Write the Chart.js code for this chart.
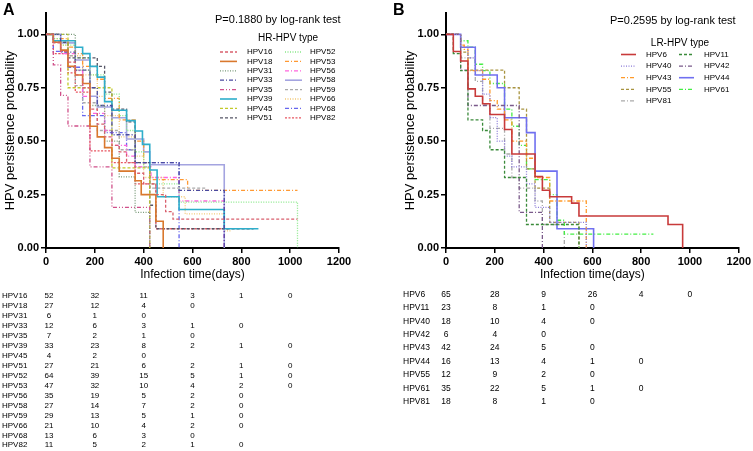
<!DOCTYPE html>
<html lang="en">
<head>
  <meta charset="UTF-8">
  <title>HPV persistence by type</title>
  <script src="https://cdn.jsdelivr.net/npm/chart.js"></script>
  <style>
    body {
      margin: 0;
      background: #fff;
      font-family: 'Liberation Sans', Arial, sans-serif;
    }
    .panel {
      position: absolute;
      top: 0;
      height: 451px;
    }
    #panelA { left: 0; width: 376px; }
    #panelB { left: 376px; width: 377px; }
  </style>
</head>
<body>

  <div class="panel" id="panelA"><canvas id="chartA" width="376" height="451"></canvas></div>
  <div class="panel" id="panelB"><canvas id="chartB" width="377" height="451"></canvas></div>

  <script>
    const xTicks = [0, 200, 400, 600, 800, 1000, 1200];
    const yTicks = [0, 0.25, 0.5, 0.75, 1];

    // HR-HPV: [day, persistence probability after the step]
    const hrNames = ['HPV16', 'HPV18', 'HPV31', 'HPV33', 'HPV35', 'HPV39', 'HPV45', 'HPV51',
                     'HPV52', 'HPV53', 'HPV56', 'HPV58', 'HPV59', 'HPV66', 'HPV68', 'HPV82'];
    const hpv16 = [[0,1],[30,0.96],[60,0.92],[90,0.87],[120,0.81],[150,0.75],[180,0.65],[210,0.58],[240,0.52],[270,0.48],[300,0.45],[330,0.40],[365,0.35],[400,0.30],[450,0.25],[490,0.17],[520,0.135],[1030,0.135]];
    const hpv18 = [[0,1],[30,0.963],[60,0.926],[90,0.85],[120,0.81],[150,0.77],[180,0.57],[210,0.52],[240,0.47],[270,0.42],[300,0.36],[365,0.315],[390,0.25],[450,0.125],[480,0]];
    const hpv31 = [[0,1],[120,0.833],[180,0.667],[240,0.5],[300,0.333],[365,0.167],[425,0]];
    const hpv33 = [[0,1],[60,0.917],[120,0.833],[180,0.75],[210,0.667],[270,0.53],[365,0.40],[545,0.27],[730,0]];
    const hpv35 = [[0,1],[30,0.857],[60,0.714],[90,0.571],[180,0.38],[270,0.19],[425,0]];
    const hpv39 = [[0,1],[30,0.97],[120,0.94],[150,0.91],[180,0.85],[210,0.80],[240,0.685],[270,0.645],[330,0.596],[365,0.548],[395,0.485],[425,0.365],[455,0.24],[545,0.18],[730,0.09],[870,0.09]];
    const hpv45 = [[0,1],[90,0.75],[270,0.375],[425,0]];
    const hpv51 = [[0,1],[30,0.963],[90,0.89],[210,0.85],[240,0.73],[270,0.65],[330,0.59],[365,0.40],[425,0.20],[450,0.09],[850,0.09]];
    const hpv52 = [[0,1],[30,0.98],[60,0.95],[120,0.89],[180,0.81],[240,0.72],[300,0.62],[330,0.55],[365,0.45],[400,0.38],[425,0.30],[545,0.215],[1030,0]];
    const hpv53 = [[0,1],[30,0.98],[90,0.94],[120,0.91],[150,0.85],[210,0.79],[240,0.70],[300,0.60],[365,0.50],[400,0.40],[425,0.32],[580,0.27],[1030,0.27]];
    const hpv56 = [[0,1],[30,0.97],[60,0.91],[120,0.83],[150,0.71],[180,0.63],[240,0.55],[270,0.48],[330,0.43],[365,0.38],[430,0.33],[545,0.22],[730,0]];
    const hpv58 = [[0,1],[60,0.96],[120,0.88],[180,0.71],[210,0.66],[270,0.61],[330,0.51],[400,0.45],[425,0.39],[730,0]];
    const hpv59 = [[0,1],[30,0.97],[90,0.90],[120,0.76],[150,0.68],[210,0.55],[300,0.46],[365,0.38],[425,0.28],[660,0.28]];
    const hpv66 = [[0,1],[60,0.95],[90,0.90],[150,0.81],[210,0.71],[240,0.62],[300,0.52],[365,0.43],[400,0.33],[480,0.24],[570,0.16],[730,0.08],[760,0.08]];
    const hpv68 = [[0,1],[30,0.92],[90,0.846],[150,0.62],[240,0.54],[330,0.46],[365,0.40],[545,0]];
    const hpv82 = [[0,1],[30,0.91],[90,0.82],[120,0.73],[180,0.455],[270,0.40],[365,0.30],[450,0.09],[750,0.09]];

    // LR-HPV
    const lrNames = ['HPV6', 'HPV11', 'HPV40', 'HPV42', 'HPV43', 'HPV44', 'HPV55', 'HPV61', 'HPV81'];
    const hpv6  = [[0,1],[30,0.92],[60,0.875],[90,0.745],[120,0.71],[150,0.675],[180,0.625],[240,0.555],[270,0.44],[365,0.335],[395,0.27],[425,0.24],[515,0.21],[545,0.15],[910,0.11],[970,0]];
    const hpv11 = [[0,1],[30,0.91],[60,0.83],[90,0.60],[150,0.55],[180,0.46],[240,0.33],[330,0.11],[545,0]];
    const hpv40 = [[0,1],[60,0.94],[90,0.89],[120,0.83],[150,0.72],[180,0.61],[210,0.50],[240,0.43],[270,0.38],[330,0.30],[365,0.19],[425,0.12],[575,0]];
    const hpv42 = [[0,1],[60,0.833],[90,0.667],[300,0.167],[395,0]];
    const hpv43 = [[0,1],[60,0.95],[75,0.93],[90,0.83],[150,0.79],[180,0.69],[210,0.65],[240,0.60],[270,0.50],[330,0.42],[365,0.33],[425,0.22],[575,0]];
    const hpv44 = [[0,1],[60,0.94],[120,0.81],[210,0.75],[240,0.61],[330,0.54],[365,0.36],[455,0.09],[605,0]];
    const hpv55 = [[0,1],[60,0.917],[90,0.833],[240,0.75],[300,0.65],[330,0.37],[365,0.28],[425,0.12],[545,0]];
    const hpv61 = [[0,1],[60,0.97],[90,0.94],[120,0.86],[150,0.83],[180,0.77],[240,0.65],[270,0.57],[300,0.48],[330,0.37],[365,0.32],[425,0.25],[455,0.13],[485,0.065],[850,0.065]];
    const hpv81 = [[0,1],[60,0.89],[120,0.78],[150,0.67],[180,0.56],[240,0.44],[270,0.33],[300,0.28],[365,0.22],[395,0.11],[485,0]];

    // number at risk at 0, 200, 400 ... days
    const hrRisk = [
      [52,32,11,3,1,0], [27,12,4,0], [6,1,0], [12,6,3,1,0], [7,2,1,0], [33,23,8,2,1,0],
      [4,2,0], [27,21,6,2,1,0], [64,39,15,5,1,0], [47,32,10,4,2,0], [35,19,5,2,0],
      [27,14,7,2,0], [29,13,5,1,0], [21,10,4,2,0], [13,6,3,0], [11,5,2,1,0]
    ];
    const lrRisk = [
      [65,28,9,26,4,0], [23,8,1,0], [18,10,4,0], [6,4,0], [42,24,5,0],
      [16,13,4,1,0], [12,9,2,0], [35,22,5,1,0], [18,8,1,0]
    ];

    // line styles
    const DASH = [3, 2], DOT = [1, 1.5], DASHDOT = [4, 2, 1, 2], DASHDOTDOT = [4, 2, 1, 2, 1, 2];
    const hrStyles = [
      ['#d9606e', DASH], ['#d9782d', []], ['#7a9a7a', DOT], ['#4a4aa0', DASHDOT],
      ['#d0508a', DASHDOTDOT], ['#2eaecb', []], ['#c2c92a', DASH], ['#555566', DASH],
      ['#88e888', DOT], ['#ff9933', DASHDOT], ['#ff66dd', DASHDOT], ['#a4a4e0', []],
      ['#aaaaaa', DASH], ['#f2c873', DOT], ['#6666ee', DASHDOT], ['#e85560', [2, 1.5]]
    ];
    const lrStyles = [
      ['#c83a3a', []], ['#3a8a3a', DASH], ['#8a7ad8', DOT], ['#7a5a8a', DASHDOT],
      ['#ff9a2a', DASHDOT], ['#7070f0', []], ['#a89440', DASH], ['#44ee44', DASHDOT],
      ['#aaaaaa', DASHDOT]
    ];

    Chart.defaults.font.family = "'Liberation Sans', Arial, sans-serif";
    Chart.defaults.color = '#000';

    function buildDatasets(names, curves, styles) {
      return names.map((name, i) => ({
        label: name,
        data: curves[i].map(p => ({ x: p[0], y: p[1] })),
        borderColor: styles[i][0],
        borderDash: styles[i][1],
        borderWidth: styles[i][1].length ? 1.3 : 1.6,
        stepped: 'before',
        pointRadius: 0,
        fill: false
      }));
    }

    // letter, p-value, legend and number-at-risk table
    const panelDecor = {
      id: 'panelDecor',
      afterDraw(chart, args, o) {
        const ctx = chart.ctx;
        const xs = chart.scales.x;
        const ox = o.ox;
        ctx.save();
        ctx.fillStyle = '#000';

        ctx.font = "bold 16px 'Liberation Sans', Arial";
        ctx.textBaseline = 'top';
        ctx.textAlign = 'left';
        ctx.fillText(o.letter, o.letterX - ox, 3);

        ctx.textBaseline = 'middle';
        ctx.font = "11px 'Liberation Sans', Arial";
        ctx.fillText(o.pText, o.pX - ox, o.pY);

        ctx.font = "10px 'Liberation Sans', Arial";
        ctx.textAlign = 'center';
        ctx.fillText(o.legendTitle, o.legendTitleX - ox, o.legendTitleY);

        ctx.font = "8px 'Liberation Sans', Arial";
        ctx.textAlign = 'left';
        chart.data.datasets.forEach((ds, i) => {
          let row, col;
          if (o.byColumn) { row = i % o.rows; col = Math.floor(i / o.rows); }
          else { row = Math.floor(i / 2); col = i % 2; }
          const y = o.legendY0 + row * o.legendDy;
          const lx = o.lineX[col] - ox;
          ctx.save();
          ctx.strokeStyle = ds.borderColor;
          ctx.lineWidth = ds.borderWidth;
          ctx.setLineDash(ds.borderDash);
          ctx.beginPath();
          ctx.moveTo(lx, y);
          ctx.lineTo(lx + o.lineLen, y);
          ctx.stroke();
          ctx.restore();
          ctx.fillText(ds.label, o.textX[col] - ox, y);
        });

        ctx.font = o.riskFont;
        o.riskRows.forEach((vals, i) => {
          const y = o.riskY0 + i * o.riskDy;
          ctx.textAlign = 'left';
          ctx.fillText(o.riskNames[i], o.riskLabelX - ox, y);
          ctx.textAlign = 'center';
          vals.forEach((v, j) => {
            ctx.fillText(String(v), xs.getPixelForValue(xTicks[j]) + (j === 0 ? o.firstShift : 0), y);
          });
        });
        ctx.restore();
      }
    };

    function makeChart(id, datasets, padLeft, padRight, decor) {
      return new Chart(document.getElementById(id), {
        type: 'line',
        data: { datasets },
        plugins: [panelDecor],
        options: {
          responsive: false,
          animation: false,
          layout: { padding: { top: 13, right: padRight, bottom: 169, left: padLeft } },
          plugins: {
            legend: { display: false },
            tooltip: { enabled: false },
            panelDecor: decor
          },
          scales: {
            x: {
              type: 'linear',
              min: 0,
              max: 1200,
              afterBuildTicks: s => { s.ticks = xTicks.map(v => ({ value: v })); },
              afterFit: s => { s.height = 34; },
              ticks: { font: { size: 11, weight: 'bold' }, color: '#000', padding: 2, maxRotation: 0, callback: v => String(v) },
              grid: { drawOnChartArea: false, color: '#000', tickLength: 5, lineWidth: 1.5 },
              border: { color: '#000', width: 2 },
              title: { display: true, text: 'Infection time(days)', font: { size: 12 }, color: '#000', padding: 0 }
            },
            y: {
              min: 0,
              max: 1.1,
              afterBuildTicks: s => { s.ticks = yTicks.map(v => ({ value: v })); },
              afterFit: s => { s.width = 46; },
              ticks: { font: { size: 11, weight: 'bold' }, color: '#000', padding: 2, callback: v => v.toFixed(2) },
              grid: { drawOnChartArea: false, color: '#000', tickLength: 5, lineWidth: 1.5 },
              border: { color: '#000', width: 2 },
              title: { display: true, text: 'HPV persistence probability', font: { size: 13 }, color: '#000', padding: { top: 3, bottom: 0 } }
            }
          }
        }
      });
    }

    makeChart('chartA',
      buildDatasets(hrNames,
        [hpv16, hpv18, hpv31, hpv33, hpv35, hpv39, hpv45, hpv51, hpv52, hpv53, hpv56, hpv58, hpv59, hpv66, hpv68, hpv82],
        hrStyles),
      0, 37,
      {
        ox: 0, letter: 'A', letterX: 3,
        pText: 'P=0.1880 by log-rank test', pX: 215, pY: 20,
        legendTitle: 'HR-HPV type', legendTitleX: 288, legendTitleY: 38,
        byColumn: true, rows: 8, legendY0: 52, legendDy: 9.4,
        lineX: [220, 285], lineLen: 17, textX: [247, 310],
        riskFont: "8px 'Liberation Sans', Arial",
        riskNames: hrNames, riskRows: hrRisk, riskLabelX: 2,
        riskY0: 296, riskDy: 9.95, firstShift: 3
      });

    makeChart('chartB',
      buildDatasets(lrNames,
        [hpv6, hpv11, hpv40, hpv42, hpv43, hpv44, hpv55, hpv61, hpv81],
        lrStyles),
      24, 14,
      {
        ox: 376, letter: 'B', letterX: 393,
        pText: 'P=0.2595 by log-rank test', pX: 610, pY: 21,
        legendTitle: 'LR-HPV type', legendTitleX: 680, legendTitleY: 43,
        byColumn: false, legendY0: 54.5, legendDy: 11.6,
        lineX: [621, 679], lineLen: 15, textX: [646, 704],
        riskFont: "8.5px 'Liberation Sans', Arial",
        riskNames: lrNames, riskRows: lrRisk, riskLabelX: 403,
        riskY0: 294.5, riskDy: 13.4, firstShift: 0
      });
  </script>

</body>
</html>
